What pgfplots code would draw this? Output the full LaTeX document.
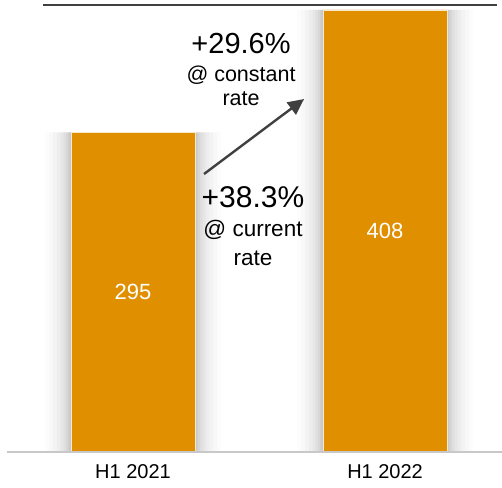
\documentclass[border=0pt]{standalone}
\usepackage{fontspec}
\setmainfont{Liberation Sans}
\usepackage{pgfplots}
\pgfplotsset{compat=1.18}
\usetikzlibrary{arrows.meta}
\definecolor{barorange}{RGB}{224,143,0}
\definecolor{arrowgray}{RGB}{64,64,64}
\definecolor{basegray}{RGB}{200,200,200}
\begin{document}
\begin{tikzpicture}
\path[use as bounding box] (-7pt,-35pt) rectangle (495pt,452pt);
\begin{axis}[
  at={(0,0)}, anchor=south west,
  scale only axis, width=495pt, height=447pt,
  xmin=-0.5, xmax=1.464, ymin=0, ymax=412.6,
  axis line style={draw=none},
  ytick=\empty,
  xtick={0,1}, xticklabels={H1 2021, H1 2022},
  major tick length=0pt,
  xticklabel style={font=\fontsize{20}{24}\selectfont, yshift=-9pt, text=black},
  /pgf/number format/assume math mode=true,
  clip=false,
  shadow/.style={ybar, bar shift=0pt, fill=black, fill opacity=#1, draw=none, forget plot},
]
% soft shadows
\addplot[shadow=0.012, bar width=176pt] coordinates {(0,295) (1,408)};
\addplot[shadow=0.015, bar width=168pt] coordinates {(0,295) (1,408)};
\addplot[shadow=0.018, bar width=160pt] coordinates {(0,295) (1,408)};
\addplot[shadow=0.022, bar width=152pt] coordinates {(0,295) (1,408)};
\addplot[shadow=0.026, bar width=145pt] coordinates {(0,295) (1,408)};
\addplot[shadow=0.03, bar width=139pt] coordinates {(0,295) (1,408)};
\addplot[shadow=0.035, bar width=134pt] coordinates {(0,295) (1,408)};
\addplot[shadow=0.04, bar width=130pt] coordinates {(0,295) (1,408)};
\addplot[shadow=0.045, bar width=127pt] coordinates {(0,295) (1,408)};
% bars
\addplot[ybar, bar width=124pt, bar shift=0pt, fill=barorange, draw=white!80!barorange, line width=0.6pt] coordinates {(0,295) (1,408)};
% base line and top line
\draw[basegray, line width=2pt] (axis cs:-0.5,0) -- (axis cs:1.464,0);
\draw[black!75, line width=1.4pt] (axis cs:-0.357,412.6) -- (axis cs:1.444,412.6);
% value labels
\node[text=white, font=\fontsize{22}{26}\selectfont] at (axis cs:0,147.5) {295};
\node[text=white, font=\fontsize{22}{26}\selectfont] at (axis cs:1,204) {408};
% arrow
\draw[arrowgray, line width=2.4pt, -{Triangle[length=16pt, width=15pt]}] (axis cs:0.2817,256.6) -- (axis cs:0.6786,325.8);
% annotations
\node[font=\fontsize{29}{34}\selectfont] at (axis cs:0.4286,377.5) {+29.6\%};
\node[font=\fontsize{21.5}{26}\selectfont] at (axis cs:0.4286,348) {@ constant};
\node[font=\fontsize{21.5}{26}\selectfont] at (axis cs:0.4286,325.9) {rate};
\node[font=\fontsize{30}{34}\selectfont] at (axis cs:0.476,235.4) {+38.3\%};
\node[font=\fontsize{22.5}{26}\selectfont] at (axis cs:0.476,205) {@ current};
\node[font=\fontsize{22.5}{26}\selectfont] at (axis cs:0.476,179) {rate};
\end{axis}
\end{tikzpicture}
\end{document}
